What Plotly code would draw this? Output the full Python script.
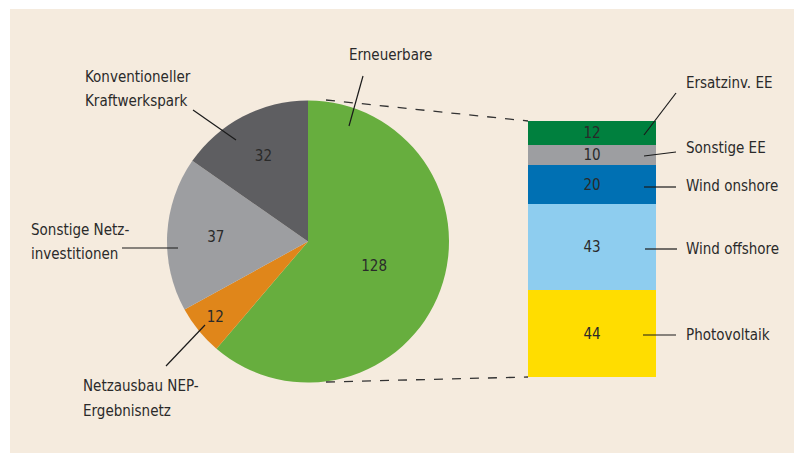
import plotly.graph_objects as go

# page body has an 8px margin; the figure is sized to fit the window
OFF = 8
W, H = 802 - OFF, 455 - OFF

pie_labels = ["Erneuerbare", "Netzausbau NEP-Ergebnisnetz", "Sonstige Netzinvestitionen", "Konventioneller Kraftwerkspark"]
pie_values = [128, 12, 37, 32]
pie_colors = ["#67AE3E", "#E0861A", "#9D9EA1", "#5E5E61"]

bar_labels = ["Photovoltaik", "Wind offshore", "Wind onshore", "Sonstige EE", "Ersatzinv. EE"]
bar_values = [44, 43, 20, 10, 12]
bar_colors = ["#FFDD00", "#8ECDEF", "#0070B3", "#9D9EA1", "#00803E"]

FONT = "DejaVu Sans Condensed, Liberation Sans Narrow, Arial Narrow, sans-serif"
TXT = "#2a2a2a"
FS = 15


def px(x):
    return (x - OFF) / W


def py(y):
    return 1 - (y - OFF) / H


fig = go.Figure()

fig.add_trace(go.Pie(
    labels=pie_labels, values=pie_values, sort=False, direction="clockwise", rotation=0,
    marker=dict(colors=pie_colors, line=dict(width=0)),
    textinfo="value", textposition="inside", insidetextorientation="horizontal",
    textfont=dict(family=FONT, size=FS, color=TXT),
    domain=dict(x=[px(167), px(449)], y=[py(383), py(100)]),
    showlegend=False, hoverinfo="label+value",
))

for lab, val, col in zip(bar_labels, bar_values, bar_colors):
    fig.add_trace(go.Bar(
        x=["EE"], y=[val], name=lab, marker=dict(color=col, line=dict(width=0)),
        text=[val], textposition="inside", insidetextanchor="middle", constraintext="none",
        textfont=dict(family=FONT, size=FS, color=TXT), textangle=0,
        xaxis="x", yaxis="y", showlegend=False,
    ))

fig.update_layout(
    width=W, height=H, autosize=False,
    margin=dict(l=0, r=0, t=0, b=0),
    paper_bgcolor="white", plot_bgcolor="rgba(0,0,0,0)",
    barmode="stack", bargap=0,
    xaxis=dict(domain=[px(528), px(656)], visible=False, fixedrange=True),
    yaxis=dict(domain=[py(377), py(121)], range=[0, sum(bar_values)], visible=False, fixedrange=True),
)

shapes = [
    dict(type="rect", xref="paper", yref="paper", x0=px(10), x1=px(797), y0=py(453), y1=py(9),
         fillcolor="#F5EBDE", line=dict(width=0), layer="below"),
    # dashed connectors
    dict(type="line", xref="paper", yref="paper", x0=px(326), y0=py(100), x1=px(528), y1=py(121),
         line=dict(color="#333333", width=1.3, dash="dash")),
    dict(type="line", xref="paper", yref="paper", x0=px(326), y0=py(382), x1=px(528), y1=py(377),
         line=dict(color="#333333", width=1.3, dash="dash")),
]

leaders = [
    (349, 126, 363, 76),
    (193, 110, 236, 140),
    (122, 248, 178, 248),
    (205, 325, 166, 366),
    (644, 135, 676, 93),
    (644, 156, 676, 152),
    (644, 187, 676, 187),
    (645, 249, 677, 249),
    (643, 335, 676, 335),
]
for x0, y0, x1, y1 in leaders:
    shapes.append(dict(type="line", xref="paper", yref="paper", x0=px(x0), y0=py(y0), x1=px(x1), y1=py(y1),
                       line=dict(color="#1a1a1a", width=1.2)))

fig.update_layout(shapes=shapes)

labels = [
    ("Erneuerbare", 390, 55, "center"),
    ("Konventioneller", 83, 77, "left"),
    ("Kraftwerkspark", 83, 101, "left"),
    ("Sonstige Netz-", 29, 230, "left"),
    ("investitionen", 29, 254, "left"),
    ("Netzausbau NEP-", 81, 386, "left"),
    ("Ergebnisnetz", 81, 411, "left"),
    ("Ersatzinv. EE", 684, 83, "left"),
    ("Sonstige EE", 684, 148, "left"),
    ("Wind onshore", 684, 186, "left"),
    ("Wind offshore", 684, 249, "left"),
    ("Photovoltaik", 684, 335, "left"),
]
for t, x, y, anc in labels:
    fig.add_annotation(text=t, x=px(x), y=py(y), xref="paper", yref="paper",
                       xanchor=anc, yanchor="middle", showarrow=False,
                       font=dict(family=FONT, size=FS, color=TXT))

fig.write_html("out.html")
